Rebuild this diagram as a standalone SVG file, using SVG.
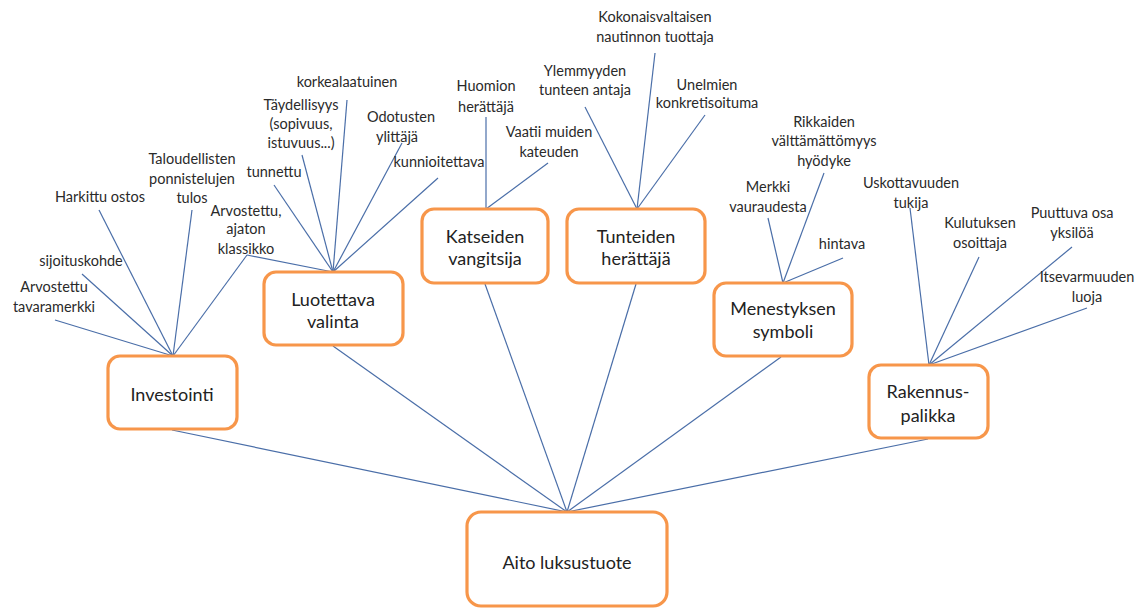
<svg xmlns="http://www.w3.org/2000/svg" width="1142" height="611" viewBox="0 0 1142 611">
  <style>
    .box { fill: #ffffff; stroke: #f7964a; stroke-width: 3.2; }
    .edge { stroke: #4a6ea8; stroke-width: 1.2; fill: none; }
    .lbl { font-family: Lato, "Liberation Sans", sans-serif; font-size: 18px; fill: #222222; text-anchor: middle; }
    .leaf { font-family: Lato, "Liberation Sans", sans-serif; font-size: 14.5px; fill: #2a2a2a; text-anchor: middle; }
  </style>
  <rect width="1142" height="611" fill="#ffffff"/>

  <!-- connectors -->
  <g id="connectors" class="edge">
    <!-- category boxes to the root -->
    <line x1="172" y1="430" x2="567" y2="512"/>
    <line x1="333" y1="346" x2="567" y2="512"/>
    <line x1="485" y1="284" x2="567" y2="512"/>
    <line x1="636" y1="284" x2="567" y2="512"/>
    <line x1="781" y1="357" x2="567" y2="512"/>
    <line x1="928" y1="439" x2="567" y2="512"/>
    <!-- Investointi -->
    <line x1="55" y1="320" x2="173" y2="356"/>
    <line x1="82" y1="274" x2="173" y2="356"/>
    <line x1="99" y1="210" x2="173" y2="356"/>
    <line x1="192" y1="210" x2="173" y2="356"/>
    <line x1="247" y1="255" x2="173" y2="356"/>
    <!-- Luotettava valinta -->
    <line x1="247" y1="255" x2="333" y2="272"/>
    <line x1="274" y1="185" x2="333" y2="272"/>
    <line x1="302" y1="155" x2="333" y2="272"/>
    <line x1="347" y1="100" x2="333" y2="272"/>
    <line x1="402" y1="143" x2="333" y2="272"/>
    <line x1="438" y1="178" x2="333" y2="272"/>
    <!-- Katseiden vangitsija -->
    <line x1="486" y1="117" x2="486" y2="209"/>
    <line x1="548" y1="163" x2="486" y2="209"/>
    <!-- Tunteiden herättäjä -->
    <line x1="585" y1="107" x2="637" y2="209"/>
    <line x1="655" y1="53" x2="637" y2="209"/>
    <line x1="705" y1="115" x2="637" y2="209"/>
    <!-- Menestyksen symboli -->
    <line x1="768" y1="218" x2="783" y2="283"/>
    <line x1="824" y1="173" x2="783" y2="283"/>
    <line x1="843" y1="258" x2="783" y2="283"/>
    <!-- Rakennuspalikka -->
    <line x1="910" y1="208" x2="929" y2="365"/>
    <line x1="979" y1="257" x2="929" y2="365"/>
    <line x1="1072" y1="247" x2="929" y2="365"/>
    <line x1="1087" y1="308" x2="929" y2="365"/>
  </g>

  <!-- root -->
  <g id="aito-luksustuote">
    <rect class="box" x="467" y="512" width="200" height="94" rx="14"/>
    <text class="lbl" x="567" y="569">Aito luksustuote</text>
  </g>

  <!-- category boxes -->
  <g id="investointi">
    <rect class="box" x="108" y="356" width="129" height="73" rx="12"/>
    <text class="lbl" x="172" y="401">Investointi</text>
  </g>
  <g id="luotettava-valinta">
    <rect class="box" x="264" y="272" width="139" height="73" rx="12"/>
    <text class="lbl" x="333" y="306">Luotettava</text>
    <text class="lbl" x="333" y="328">valinta</text>
  </g>
  <g id="katseiden-vangitsija">
    <rect class="box" x="422" y="209" width="126" height="74" rx="12"/>
    <text class="lbl" x="485" y="243">Katseiden</text>
    <text class="lbl" x="485" y="265">vangitsija</text>
  </g>
  <g id="tunteiden-herattaja">
    <rect class="box" x="567" y="209" width="138" height="74" rx="12"/>
    <text class="lbl" x="636" y="243">Tunteiden</text>
    <text class="lbl" x="636" y="265">herättäjä</text>
  </g>
  <g id="menestyksen-symboli">
    <rect class="box" x="714" y="283" width="138" height="73" rx="12"/>
    <text class="lbl" x="783" y="315">Menestyksen</text>
    <text class="lbl" x="783" y="338">symboli</text>
  </g>
  <g id="rakennuspalikka">
    <rect class="box" x="869" y="365" width="119" height="73" rx="12"/>
    <text class="lbl" x="928" y="398">Rakennus-</text>
    <text class="lbl" x="928" y="422">palikka</text>
  </g>

  <!-- Investointi attributes -->
  <g id="arvostettu-tavaramerkki">
    <text class="leaf" x="54" y="292">Arvostettu</text>
    <text class="leaf" x="54" y="312">tavaramerkki</text>
  </g>
  <g id="sijoituskohde">
    <text class="leaf" x="81" y="266">sijoituskohde</text>
  </g>
  <g id="harkittu-ostos">
    <text class="leaf" x="100" y="202">Harkittu ostos</text>
  </g>
  <g id="taloudellisten-ponnistelujen-tulos">
    <text class="leaf" x="192" y="164">Taloudellisten</text>
    <text class="leaf" x="192" y="184">ponnistelujen</text>
    <text class="leaf" x="192" y="203">tulos</text>
  </g>
  <g id="arvostettu-ajaton-klassikko">
    <text class="leaf" x="246" y="216">Arvostettu,</text>
    <text class="leaf" x="246" y="234">ajaton</text>
    <text class="leaf" x="246" y="254">klassikko</text>
  </g>

  <!-- Luotettava valinta attributes -->
  <g id="tunnettu">
    <text class="leaf" x="274" y="177">tunnettu</text>
  </g>
  <g id="taydellisyys">
    <text class="leaf" x="301" y="110">Täydellisyys</text>
    <text class="leaf" x="301" y="129">(sopivuus,</text>
    <text class="leaf" x="301" y="148">istuvuus...)</text>
  </g>
  <g id="korkealaatuinen">
    <text class="leaf" x="347" y="87">korkealaatuinen</text>
  </g>
  <g id="odotusten-ylittaja">
    <text class="leaf" x="401" y="122">Odotusten</text>
    <text class="leaf" x="397" y="142">ylittäjä</text>
  </g>
  <g id="kunnioitettava">
    <text class="leaf" x="439" y="167">kunnioitettava</text>
  </g>

  <!-- Katseiden vangitsija attributes -->
  <g id="huomion-herattaja">
    <text class="leaf" x="486" y="91">Huomion</text>
    <text class="leaf" x="486" y="112">herättäjä</text>
  </g>
  <g id="vaatii-muiden-kateuden">
    <text class="leaf" x="549" y="137">Vaatii muiden</text>
    <text class="leaf" x="549" y="157">kateuden</text>
  </g>

  <!-- Tunteiden herättäjä attributes -->
  <g id="kokonaisvaltaisen-nautinnon-tuottaja">
    <text class="leaf" x="655" y="22">Kokonaisvaltaisen</text>
    <text class="leaf" x="655" y="42">nautinnon tuottaja</text>
  </g>
  <g id="ylemmyyden-tunteen-antaja">
    <text class="leaf" x="585" y="76">Ylemmyyden</text>
    <text class="leaf" x="585" y="95">tunteen antaja</text>
  </g>
  <g id="unelmien-konkretisoituma">
    <text class="leaf" x="707" y="90">Unelmien</text>
    <text class="leaf" x="707" y="108">konkretisoituma</text>
  </g>

  <!-- Menestyksen symboli attributes -->
  <g id="merkki-vauraudesta">
    <text class="leaf" x="768" y="192">Merkki</text>
    <text class="leaf" x="768" y="212">vauraudesta</text>
  </g>
  <g id="rikkaiden-valttamattomyys-hyodyke">
    <text class="leaf" x="824" y="127">Rikkaiden</text>
    <text class="leaf" x="824" y="146">välttämättömyys</text>
    <text class="leaf" x="824" y="166">hyödyke</text>
  </g>
  <g id="hintava">
    <text class="leaf" x="842" y="249">hintava</text>
  </g>

  <!-- Rakennuspalikka attributes -->
  <g id="uskottavuuden-tukija">
    <text class="leaf" x="911" y="188">Uskottavuuden</text>
    <text class="leaf" x="911" y="208">tukija</text>
  </g>
  <g id="kulutuksen-osoittaja">
    <text class="leaf" x="980" y="228">Kulutuksen</text>
    <text class="leaf" x="980" y="248">osoittaja</text>
  </g>
  <g id="puuttuva-osa-yksiloa">
    <text class="leaf" x="1072" y="218">Puuttuva osa</text>
    <text class="leaf" x="1072" y="238">yksilöä</text>
  </g>
  <g id="itsevarmuuden-luoja">
    <text class="leaf" x="1087" y="282">Itsevarmuuden</text>
    <text class="leaf" x="1087" y="302">luoja</text>
  </g>
</svg>
